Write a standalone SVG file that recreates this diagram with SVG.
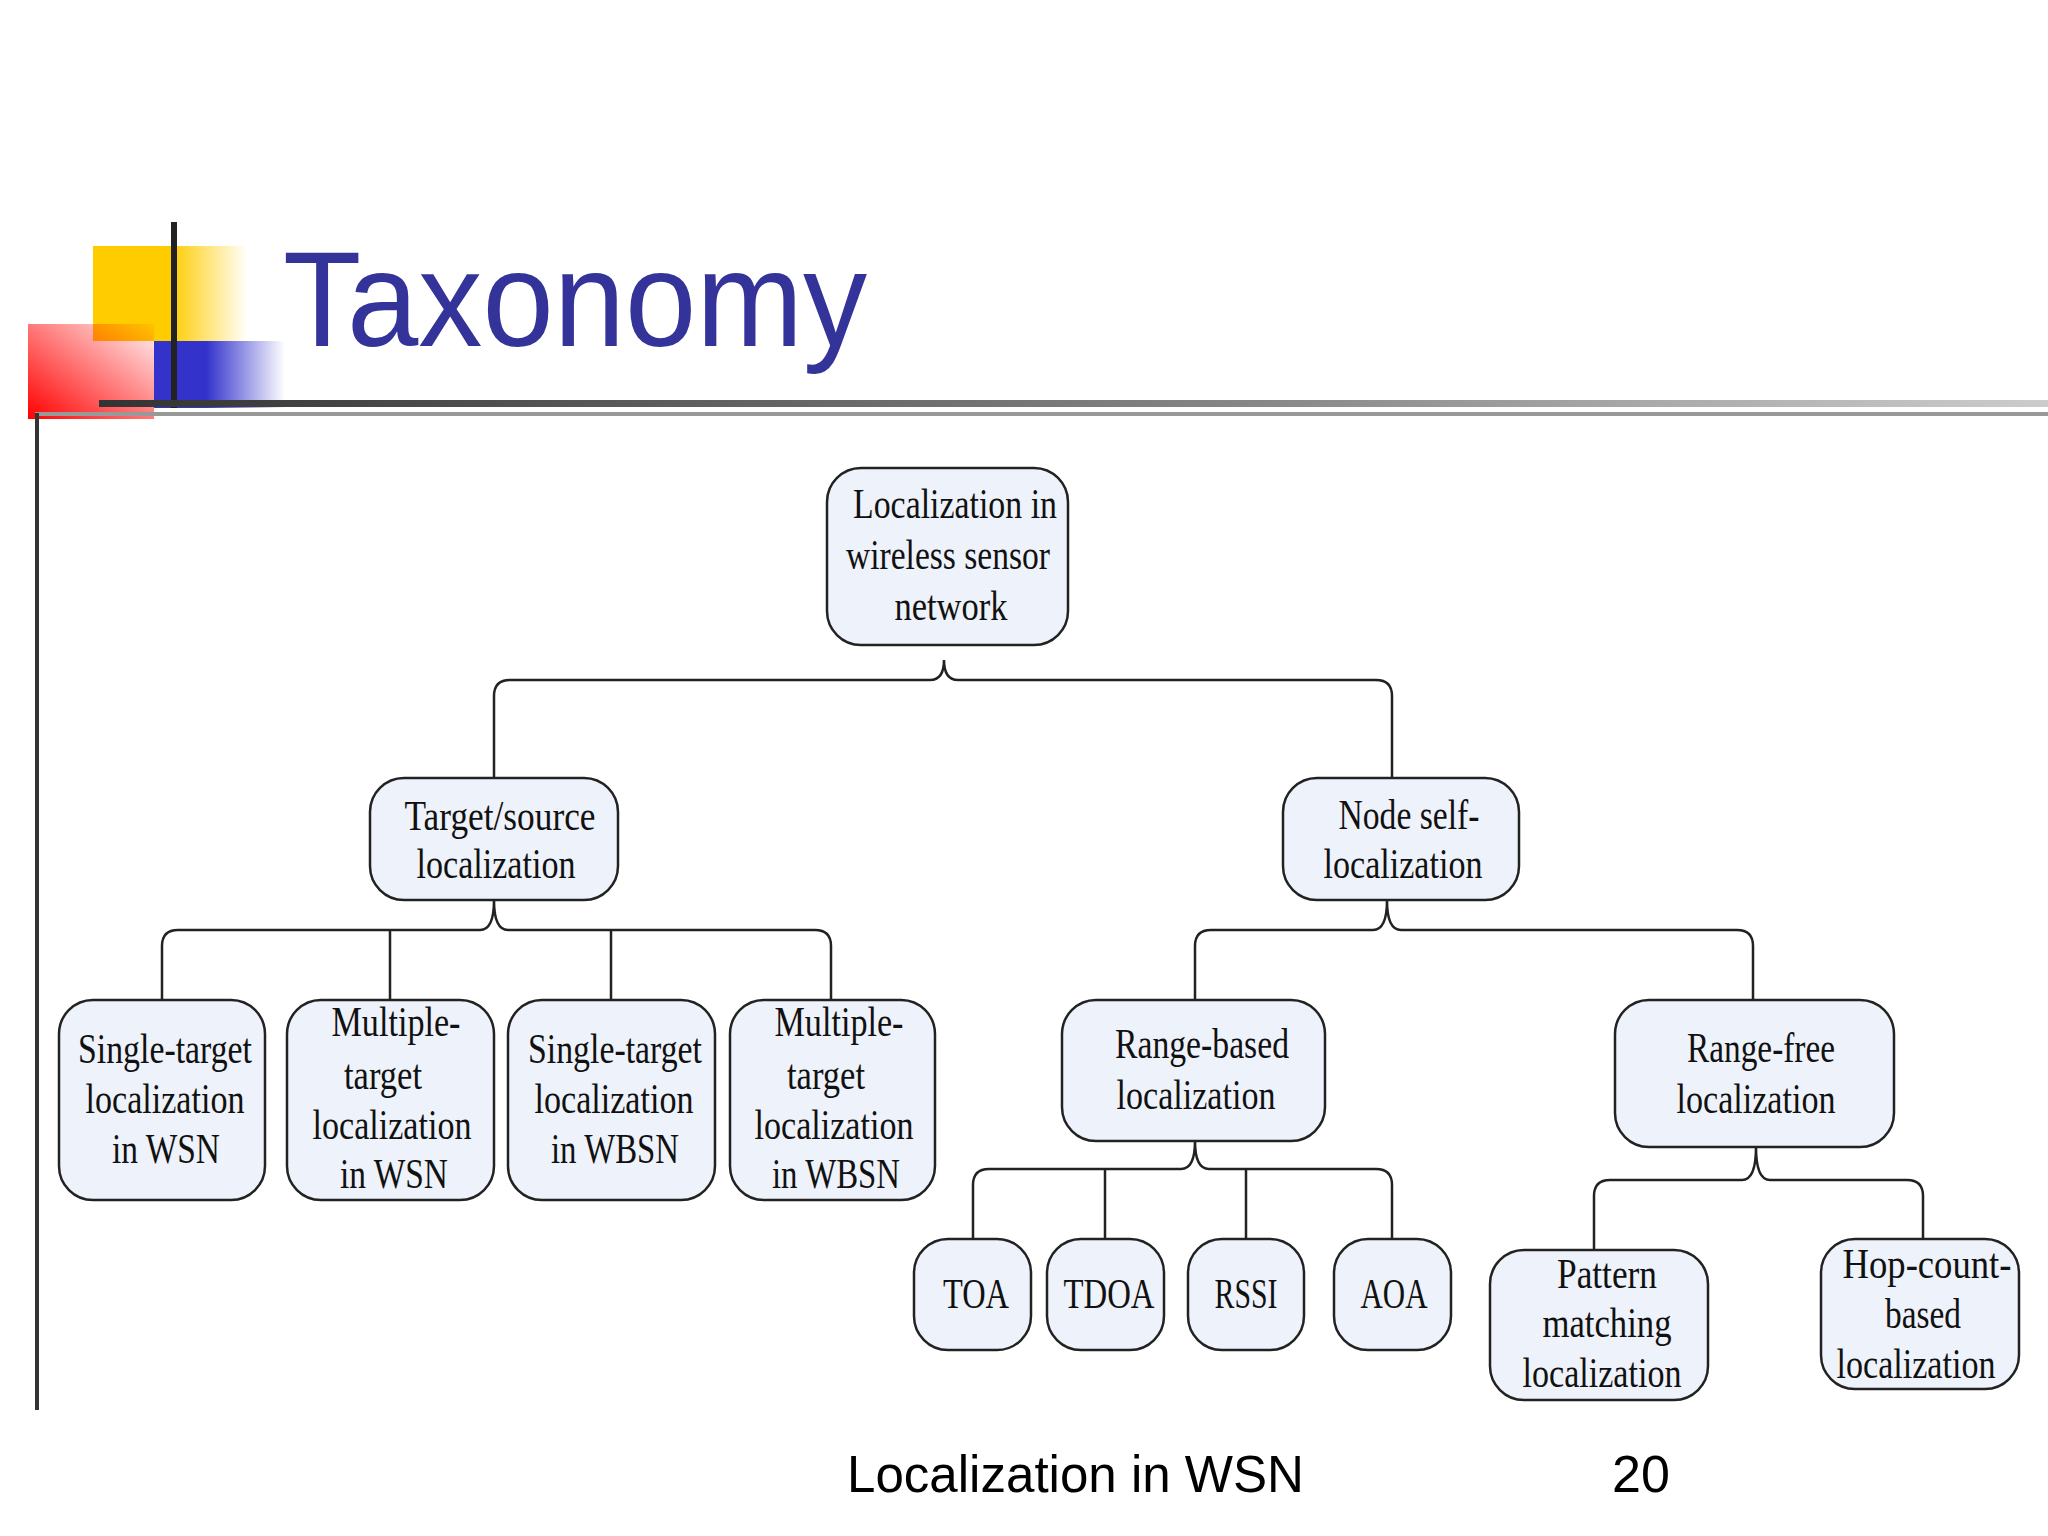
<svg xmlns="http://www.w3.org/2000/svg" width="2048" height="1536" viewBox="0 0 2048 1536">
<defs>
<linearGradient id="gy" x1="0" x2="1" y1="0" y2="0"><stop offset="0.5" stop-color="#ffcc00"/><stop offset="1" stop-color="#ffcc00" stop-opacity="0"/></linearGradient>
<linearGradient id="gb" x1="0" x2="1" y1="0" y2="0"><stop offset="0.4" stop-color="#3333cc"/><stop offset="1" stop-color="#3333cc" stop-opacity="0"/></linearGradient>
<linearGradient id="gr" x1="0" y1="1" x2="1" y2="0"><stop offset="0" stop-color="#ff0000"/><stop offset="1" stop-color="#ff0000" stop-opacity="0.05"/></linearGradient>
<linearGradient id="gl" x1="0" x2="1" y1="0" y2="0"><stop offset="0" stop-color="#333"/><stop offset="0.6" stop-color="#888"/><stop offset="1" stop-color="#ccc"/></linearGradient>
<style>
.n rect{fill:#eef2fa;stroke:#222;stroke-width:2.5}
.n text{font-family:"Liberation Serif","Times New Roman",serif;font-size:42px;fill:#111;text-anchor:middle}
#connectors path{fill:none;stroke:#222;stroke-width:2.5}
</style>
</defs>
<rect width="2048" height="1536" fill="#fff"/>
<rect x="93" y="246" width="155" height="95" fill="url(#gy)"/>
<rect x="154" y="341" width="131" height="67" fill="url(#gb)"/>
<rect x="28" y="324" width="126" height="95" fill="url(#gr)"/>
<rect x="171" y="222" width="6" height="186" fill="#222"/>
<rect x="99" y="400" width="1949" height="7" fill="url(#gl)"/>
<rect x="35" y="412" width="2013" height="4" fill="#999"/>
<rect x="35" y="413" width="4" height="997" fill="#333"/>
<text x="283" y="346" font-family="Liberation Sans,Arial,sans-serif" font-size="136" fill="#333399" textLength="584" lengthAdjust="spacingAndGlyphs">Taxonomy</text>

<g id="connectors">
<path d="M494,778 V696 Q494,680 510,680 H930 Q944,680 944,660 Q944,680 958,680 H1376 Q1392,680 1392,696 V778"/>
<path d="M162,1000 V946 Q162,930 178,930 H480 Q494,930 494,900 Q494,930 508,930 H815 Q831,930 831,946 V1000 M390,930 V1000 M611,930 V1000"/>
<path d="M1195,1000 V946 Q1195,930 1211,930 H1373 Q1387,930 1387,900 Q1387,930 1401,930 H1737 Q1753,930 1753,946 V1000"/>
<path d="M973,1239 V1185 Q973,1169 989,1169 H1181 Q1195,1169 1195,1141 Q1195,1169 1209,1169 H1376 Q1392,1169 1392,1185 V1239 M1105,1169 V1239 M1246,1169 V1239"/>
<path d="M1594,1250 V1196 Q1594,1180 1610,1180 H1742 Q1756,1180 1756,1147 Q1756,1180 1770,1180 H1907 Q1923,1180 1923,1196 V1239"/>
</g>

<g id="root" class="n"><rect x="827" y="468" width="241" height="177" rx="34"/>
<text x="955" y="518" textLength="204" lengthAdjust="spacingAndGlyphs">Localization in</text>
<text x="948" y="569" textLength="204" lengthAdjust="spacingAndGlyphs">wireless sensor</text>
<text x="951" y="620" textLength="113" lengthAdjust="spacingAndGlyphs">network</text></g>

<g id="target" class="n"><rect x="370" y="778" width="248" height="122" rx="34"/>
<text x="500" y="830" textLength="191" lengthAdjust="spacingAndGlyphs">Target/source</text>
<text x="496" y="878" textLength="159" lengthAdjust="spacingAndGlyphs">localization</text></g>

<g id="nodeself" class="n"><rect x="1283" y="778" width="236" height="122" rx="34"/>
<text x="1409" y="829" textLength="141" lengthAdjust="spacingAndGlyphs">Node self-</text>
<text x="1403" y="878" textLength="159" lengthAdjust="spacingAndGlyphs">localization</text></g>

<g id="st-wsn" class="n"><rect x="59" y="1000" width="206" height="200" rx="34"/>
<text x="165" y="1063" textLength="174" lengthAdjust="spacingAndGlyphs">Single-target</text>
<text x="165" y="1113" textLength="159" lengthAdjust="spacingAndGlyphs">localization</text>
<text x="166" y="1163" textLength="108" lengthAdjust="spacingAndGlyphs">in WSN</text></g>

<g id="mt-wsn" class="n"><rect x="287" y="1000" width="207" height="200" rx="34"/>
<text x="396" y="1036" textLength="129" lengthAdjust="spacingAndGlyphs">Multiple-</text>
<text x="383" y="1089" textLength="78" lengthAdjust="spacingAndGlyphs">target</text>
<text x="392" y="1139" textLength="159" lengthAdjust="spacingAndGlyphs">localization</text>
<text x="394" y="1188" textLength="108" lengthAdjust="spacingAndGlyphs">in WSN</text></g>

<g id="st-wbsn" class="n"><rect x="508" y="1000" width="207" height="200" rx="34"/>
<text x="615" y="1063" textLength="174" lengthAdjust="spacingAndGlyphs">Single-target</text>
<text x="614" y="1113" textLength="159" lengthAdjust="spacingAndGlyphs">localization</text>
<text x="615" y="1163" textLength="128" lengthAdjust="spacingAndGlyphs">in WBSN</text></g>

<g id="mt-wbsn" class="n"><rect x="730" y="1000" width="205" height="200" rx="34"/>
<text x="839" y="1036" textLength="129" lengthAdjust="spacingAndGlyphs">Multiple-</text>
<text x="826" y="1089" textLength="78" lengthAdjust="spacingAndGlyphs">target</text>
<text x="834" y="1139" textLength="159" lengthAdjust="spacingAndGlyphs">localization</text>
<text x="836" y="1188" textLength="128" lengthAdjust="spacingAndGlyphs">in WBSN</text></g>

<g id="rangebased" class="n"><rect x="1062" y="1000" width="263" height="141" rx="34"/>
<text x="1202" y="1058" textLength="174" lengthAdjust="spacingAndGlyphs">Range-based</text>
<text x="1196" y="1109" textLength="159" lengthAdjust="spacingAndGlyphs">localization</text></g>

<g id="rangefree" class="n"><rect x="1615" y="1000" width="279" height="147" rx="34"/>
<text x="1761" y="1062" textLength="148" lengthAdjust="spacingAndGlyphs">Range-free</text>
<text x="1756" y="1113" textLength="159" lengthAdjust="spacingAndGlyphs">localization</text></g>

<g id="toa" class="n"><rect x="914" y="1239" width="117" height="111" rx="34"/>
<text x="976" y="1308" textLength="66" lengthAdjust="spacingAndGlyphs">TOA</text></g>
<g id="tdoa" class="n"><rect x="1047" y="1239" width="117" height="111" rx="34"/>
<text x="1109" y="1308" textLength="91" lengthAdjust="spacingAndGlyphs">TDOA</text></g>
<g id="rssi" class="n"><rect x="1188" y="1239" width="116" height="111" rx="34"/>
<text x="1246" y="1308" textLength="63" lengthAdjust="spacingAndGlyphs">RSSI</text></g>
<g id="aoa" class="n"><rect x="1334" y="1239" width="117" height="111" rx="34"/>
<text x="1394" y="1308" textLength="67" lengthAdjust="spacingAndGlyphs">AOA</text></g>

<g id="pattern" class="n"><rect x="1490" y="1250" width="218" height="150" rx="34"/>
<text x="1607" y="1288" textLength="100" lengthAdjust="spacingAndGlyphs">Pattern</text>
<text x="1607" y="1337" textLength="129" lengthAdjust="spacingAndGlyphs">matching</text>
<text x="1602" y="1387" textLength="159" lengthAdjust="spacingAndGlyphs">localization</text></g>

<g id="hop" class="n"><rect x="1821" y="1239" width="198" height="150" rx="34"/>
<text x="1927" y="1278" textLength="169" lengthAdjust="spacingAndGlyphs">Hop-count-</text>
<text x="1923" y="1328" textLength="76" lengthAdjust="spacingAndGlyphs">based</text>
<text x="1916" y="1378" textLength="159" lengthAdjust="spacingAndGlyphs">localization</text></g>

<text x="847" y="1492" font-family="Liberation Sans,Arial,sans-serif" font-size="52" fill="#000" textLength="457" lengthAdjust="spacingAndGlyphs">Localization in WSN</text>
<text x="1612" y="1492" font-family="Liberation Sans,Arial,sans-serif" font-size="52" fill="#000">20</text>
</svg>
